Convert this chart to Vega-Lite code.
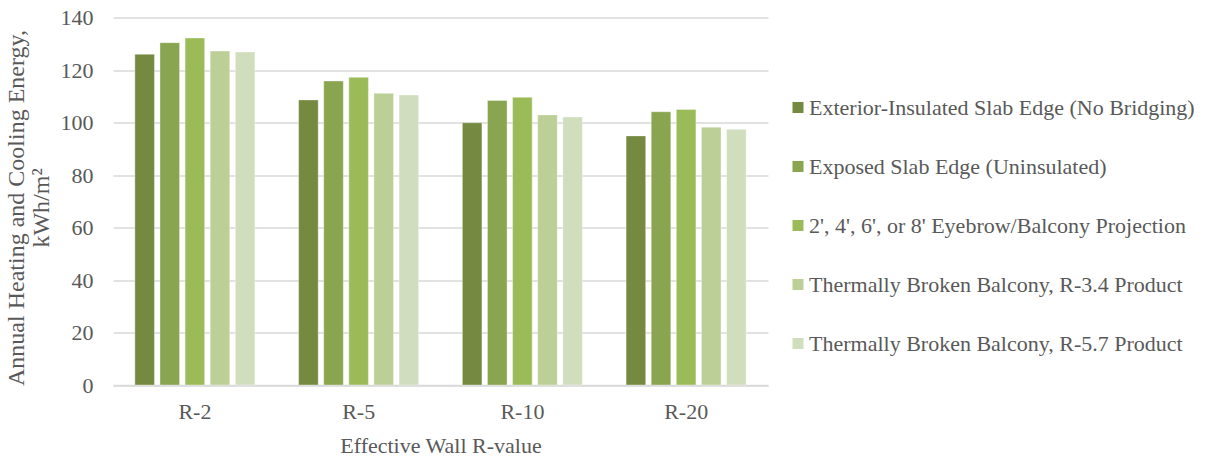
{
  "$schema": "https://vega.github.io/schema/vega-lite/v6.json",
  "autosize": "none",
  "width": 655,
  "height": 367.5,
  "padding": {"left": 113, "top": 17.5, "right": 451, "bottom": 72},
  "background": "white",
  "config": {
    "font": "Liberation Serif",
    "view": {"stroke": null}
  },
  "data": {
    "values": [
      {"wall": "R-2", "detail": "Exterior-Insulated Slab Edge (No Bridging)", "energy": 126.0},
      {"wall": "R-2", "detail": "Exposed Slab Edge (Uninsulated)", "energy": 130.4},
      {"wall": "R-2", "detail": "2', 4', 6', or 8' Eyebrow/Balcony Projection", "energy": 132.2},
      {"wall": "R-2", "detail": "Thermally Broken Balcony, R-3.4 Product", "energy": 127.2},
      {"wall": "R-2", "detail": "Thermally Broken Balcony, R-5.7 Product", "energy": 126.9},
      {"wall": "R-5", "detail": "Exterior-Insulated Slab Edge (No Bridging)", "energy": 108.6},
      {"wall": "R-5", "detail": "Exposed Slab Edge (Uninsulated)", "energy": 115.8},
      {"wall": "R-5", "detail": "2', 4', 6', or 8' Eyebrow/Balcony Projection", "energy": 117.2},
      {"wall": "R-5", "detail": "Thermally Broken Balcony, R-3.4 Product", "energy": 111.1},
      {"wall": "R-5", "detail": "Thermally Broken Balcony, R-5.7 Product", "energy": 110.5},
      {"wall": "R-10", "detail": "Exterior-Insulated Slab Edge (No Bridging)", "energy": 99.9},
      {"wall": "R-10", "detail": "Exposed Slab Edge (Uninsulated)", "energy": 108.4},
      {"wall": "R-10", "detail": "2', 4', 6', or 8' Eyebrow/Balcony Projection", "energy": 109.6},
      {"wall": "R-10", "detail": "Thermally Broken Balcony, R-3.4 Product", "energy": 102.9},
      {"wall": "R-10", "detail": "Thermally Broken Balcony, R-5.7 Product", "energy": 102.1},
      {"wall": "R-20", "detail": "Exterior-Insulated Slab Edge (No Bridging)", "energy": 94.9},
      {"wall": "R-20", "detail": "Exposed Slab Edge (Uninsulated)", "energy": 104.1},
      {"wall": "R-20", "detail": "2', 4', 6', or 8' Eyebrow/Balcony Projection", "energy": 105.0},
      {"wall": "R-20", "detail": "Thermally Broken Balcony, R-3.4 Product", "energy": 98.2},
      {"wall": "R-20", "detail": "Thermally Broken Balcony, R-5.7 Product", "energy": 97.4}
    ]
  },
  "mark": {"type": "bar", "stroke": "#ffffff", "strokeWidth": 0.6, "strokeOpacity": 0.6},
  "encoding": {
    "x": {
      "field": "wall",
      "type": "nominal",
      "sort": ["R-2", "R-5", "R-10", "R-20"],
      "scale": {"paddingInner": 0.267, "paddingOuter": 0.1335},
      "axis": {
        "title": "Effective Wall R-value",
        "titleFont": "Liberation Serif",
        "titleFontSize": 22,
        "titleFontWeight": "normal",
        "titleColor": "#595959",
        "titlePadding": 13,
        "labelAngle": 0,
        "labelFontSize": 22,
        "labelColor": "#595959",
        "labelPadding": 16,
        "ticks": false,
        "domainColor": "#D9D9D9",
        "domainWidth": 1.5,
        "grid": false
      }
    },
    "xOffset": {
      "field": "detail",
      "type": "nominal",
      "sort": [
        "Exterior-Insulated Slab Edge (No Bridging)",
        "Exposed Slab Edge (Uninsulated)",
        "2', 4', 6', or 8' Eyebrow/Balcony Projection",
        "Thermally Broken Balcony, R-3.4 Product",
        "Thermally Broken Balcony, R-5.7 Product"
      ],
      "scale": {"paddingInner": 0.22, "paddingOuter": 0}
    },
    "y": {
      "field": "energy",
      "type": "quantitative",
      "scale": {"domain": [0, 140], "nice": false},
      "axis": {
        "title": ["Annual Heating and Cooling Energy,", "kWh/m²"],
        "titleFont": "Liberation Serif",
        "titleFontSize": 24,
        "titleFontWeight": "normal",
        "titleColor": "#595959",
        "titleLineHeight": 25,
        "titleAngle": -90,
        "titleAlign": "center",
        "titleBaseline": "bottom",
        "titleX": -85,
        "titleY": 190,
        "values": [0, 20, 40, 60, 80, 100, 120, 140],
        "labelFontSize": 22,
        "labelColor": "#595959",
        "labelPadding": 20,
        "ticks": false,
        "domain": false,
        "gridColor": "#D9D9D9",
        "gridWidth": 1.3
      }
    },
    "color": {
      "field": "detail",
      "type": "nominal",
      "scale": {
        "domain": [
          "Exterior-Insulated Slab Edge (No Bridging)",
          "Exposed Slab Edge (Uninsulated)",
          "2', 4', 6', or 8' Eyebrow/Balcony Projection",
          "Thermally Broken Balcony, R-3.4 Product",
          "Thermally Broken Balcony, R-5.7 Product"
        ],
        "range": ["#758A40", "#8AA54F", "#9BBB59", "#BBCF96", "#D1DEBE"]
      },
      "legend": {
        "title": null,
        "orient": "none",
        "legendX": 674,
        "legendY": 79,
        "padding": 0,
        "symbolType": "square",
        "symbolSize": 121,
        "symbolStrokeWidth": 0,
        "labelFontSize": 22,
        "labelColor": "#595959",
        "labelOffset": 0,
        "labelLimit": 500,
        "rowPadding": 37
      }
    }
  }
}
